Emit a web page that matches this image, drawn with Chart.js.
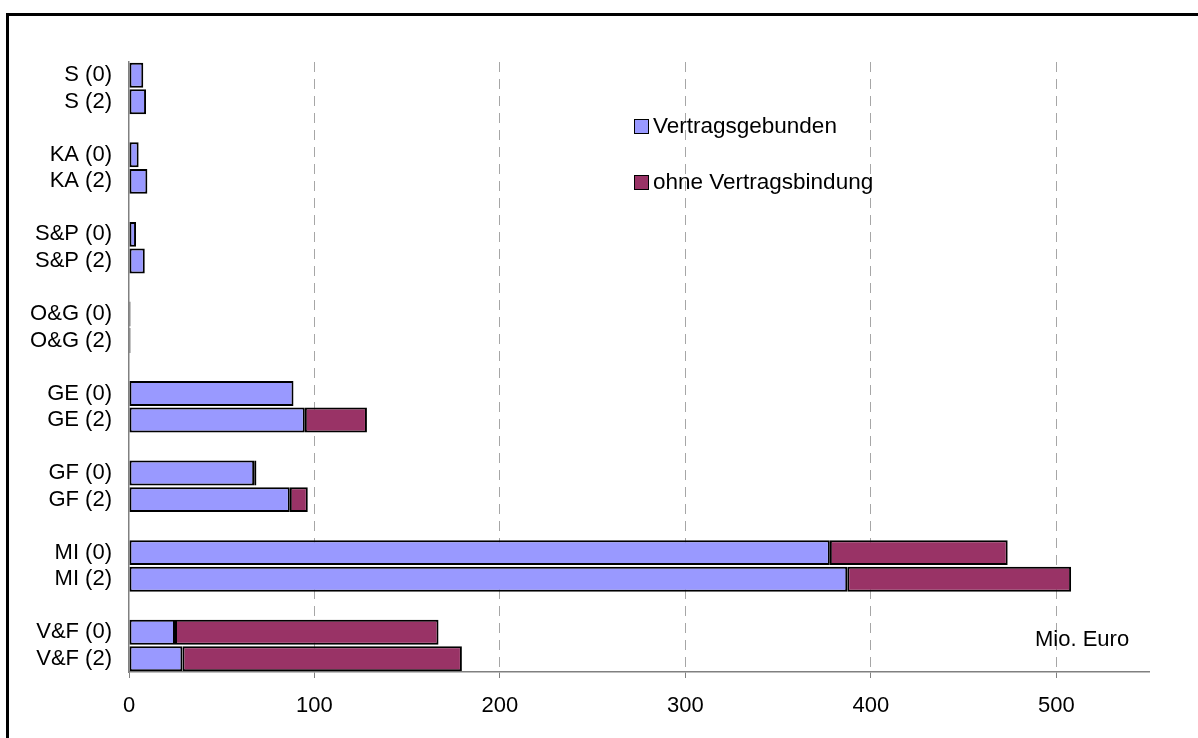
<!DOCTYPE html>
<html>
<head>
<meta charset="utf-8">
<script src="https://cdn.jsdelivr.net/npm/chart.js@4.4.0/dist/chart.umd.min.js"></script>
<style>
  body { margin: 0; background: #fff; font-family: "Liberation Sans", Arial, sans-serif; }
  #wrap { position: relative; width: 1198px; height: 738px; overflow: hidden; }
  #frame { position: absolute; left: 6px; top: 13px; width: 1400px; height: 900px;
           border-top: 3px solid #000; border-left: 3px solid #000; }
  .legend-item { position: absolute; left: 634px; font-size: 22.5px; color: #000;
                 line-height: 22px; white-space: nowrap; }
  .legend-box { display: inline-block; width: 13px; height: 13px; border: 1px solid #000;
                margin-right: 4px; vertical-align: -1px; }
  #unit { position: absolute; left: 1035px; top: 626px; font-size: 22px; color: #000; }
</style>
</head>
<body>
<div id="wrap">
  <div id="frame"></div>
  <canvas id="chart" width="1198" height="738"></canvas>
  <div id="legend"></div>
  <div id="unit">Mio. Euro</div>
</div>
<script>
// Kategorien (leere Einträge = Abstand zwischen den Gruppen)
const categories = [
  'S (0)', 'S (2)', '',
  'KA (0)', 'KA (2)', '',
  'S&P (0)', 'S&P (2)', '',
  'O&G (0)', 'O&G (2)', '',
  'GE (0)', 'GE (2)', '',
  'GF (0)', 'GF (2)', '',
  'MI (0)', 'MI (2)', '',
  'V&F (0)', 'V&F (2)'
];

const seriesNames = ['Vertragsgebunden', 'ohne Vertragsbindung'];
const seriesColors = ['#9999FF', '#993366'];

const vertragsgebunden = [
  7.7, 9.2, null,
  5.2, 9.9, null,
  3.8, 8.5, null,
  0.8, 0.8, null,
  88.7, 94.8, null,
  67.5, 86.7, null,
  377.9, 387.3, null,
  24.8, 28.8
];

const ohneVertragsbindung = [
  null, null, null,
  null, null, null,
  null, null, null,
  null, null, null,
  null, 33.5, null,
  1.2, 9.7, null,
  95.9, 120.7, null,
  142.1, 150.7
];

const xTicks = [0, 100, 200, 300, 400, 500];
const xMax = 550;

const font = { family: '"Liberation Sans", Arial, sans-serif', size: 22 };

new Chart(document.getElementById('chart').getContext('2d'), {
  type: 'bar',
  data: {
    labels: categories,
    datasets: [vertragsgebunden, ohneVertragsbindung].map((values, i) => ({
      label: seriesNames[i],
      data: values,
      backgroundColor: seriesColors[i],
      borderColor: '#000',
      borderWidth: 2,
      borderSkipped: false,
      barPercentage: 0.94,
      categoryPercentage: 1
    }))
  },
  options: {
    indexAxis: 'y',
    responsive: false,
    animation: false,
    layout: { padding: { top: 62, right: 49, left: 0, bottom: 0 } },
    plugins: { legend: { display: false }, tooltip: { enabled: false } },
    scales: {
      x: {
        stacked: true,
        min: 0,
        max: xMax,
        afterBuildTicks: scale => {
          scale.ticks = xTicks.map(v => ({ value: v }));
        },
        afterFit: scale => { scale.height = 66; },
        ticks: { color: '#000', font: font, padding: 15, maxRotation: 0 },
        grid: {
          color: ctx => (ctx.tick && ctx.tick.value === 0 ? 'rgba(0,0,0,0)' : '#a6a6a6'),
          tickColor: '#808080',
          tickLength: 6,
          lineWidth: 1
        },
        border: { color: '#808080', width: 1.5, dash: [10, 7] }
      },
      y: {
        stacked: true,
        afterFit: scale => { scale.width = 129; },
        ticks: { color: '#000', font: font, padding: 9, autoSkip: false },
        grid: { display: false },
        border: { color: '#808080', width: 1.5 }
      }
    }
  }
});

// Legende als HTML-Text
const legend = document.getElementById('legend');
const legendTops = [115, 171];
seriesNames.forEach((name, i) => {
  const item = document.createElement('div');
  item.className = 'legend-item';
  item.style.top = legendTops[i] + 'px';
  item.innerHTML = '<span class="legend-box" style="background:' + seriesColors[i] + '"></span>' + name;
  legend.appendChild(item);
});
</script>
</body>
</html>
